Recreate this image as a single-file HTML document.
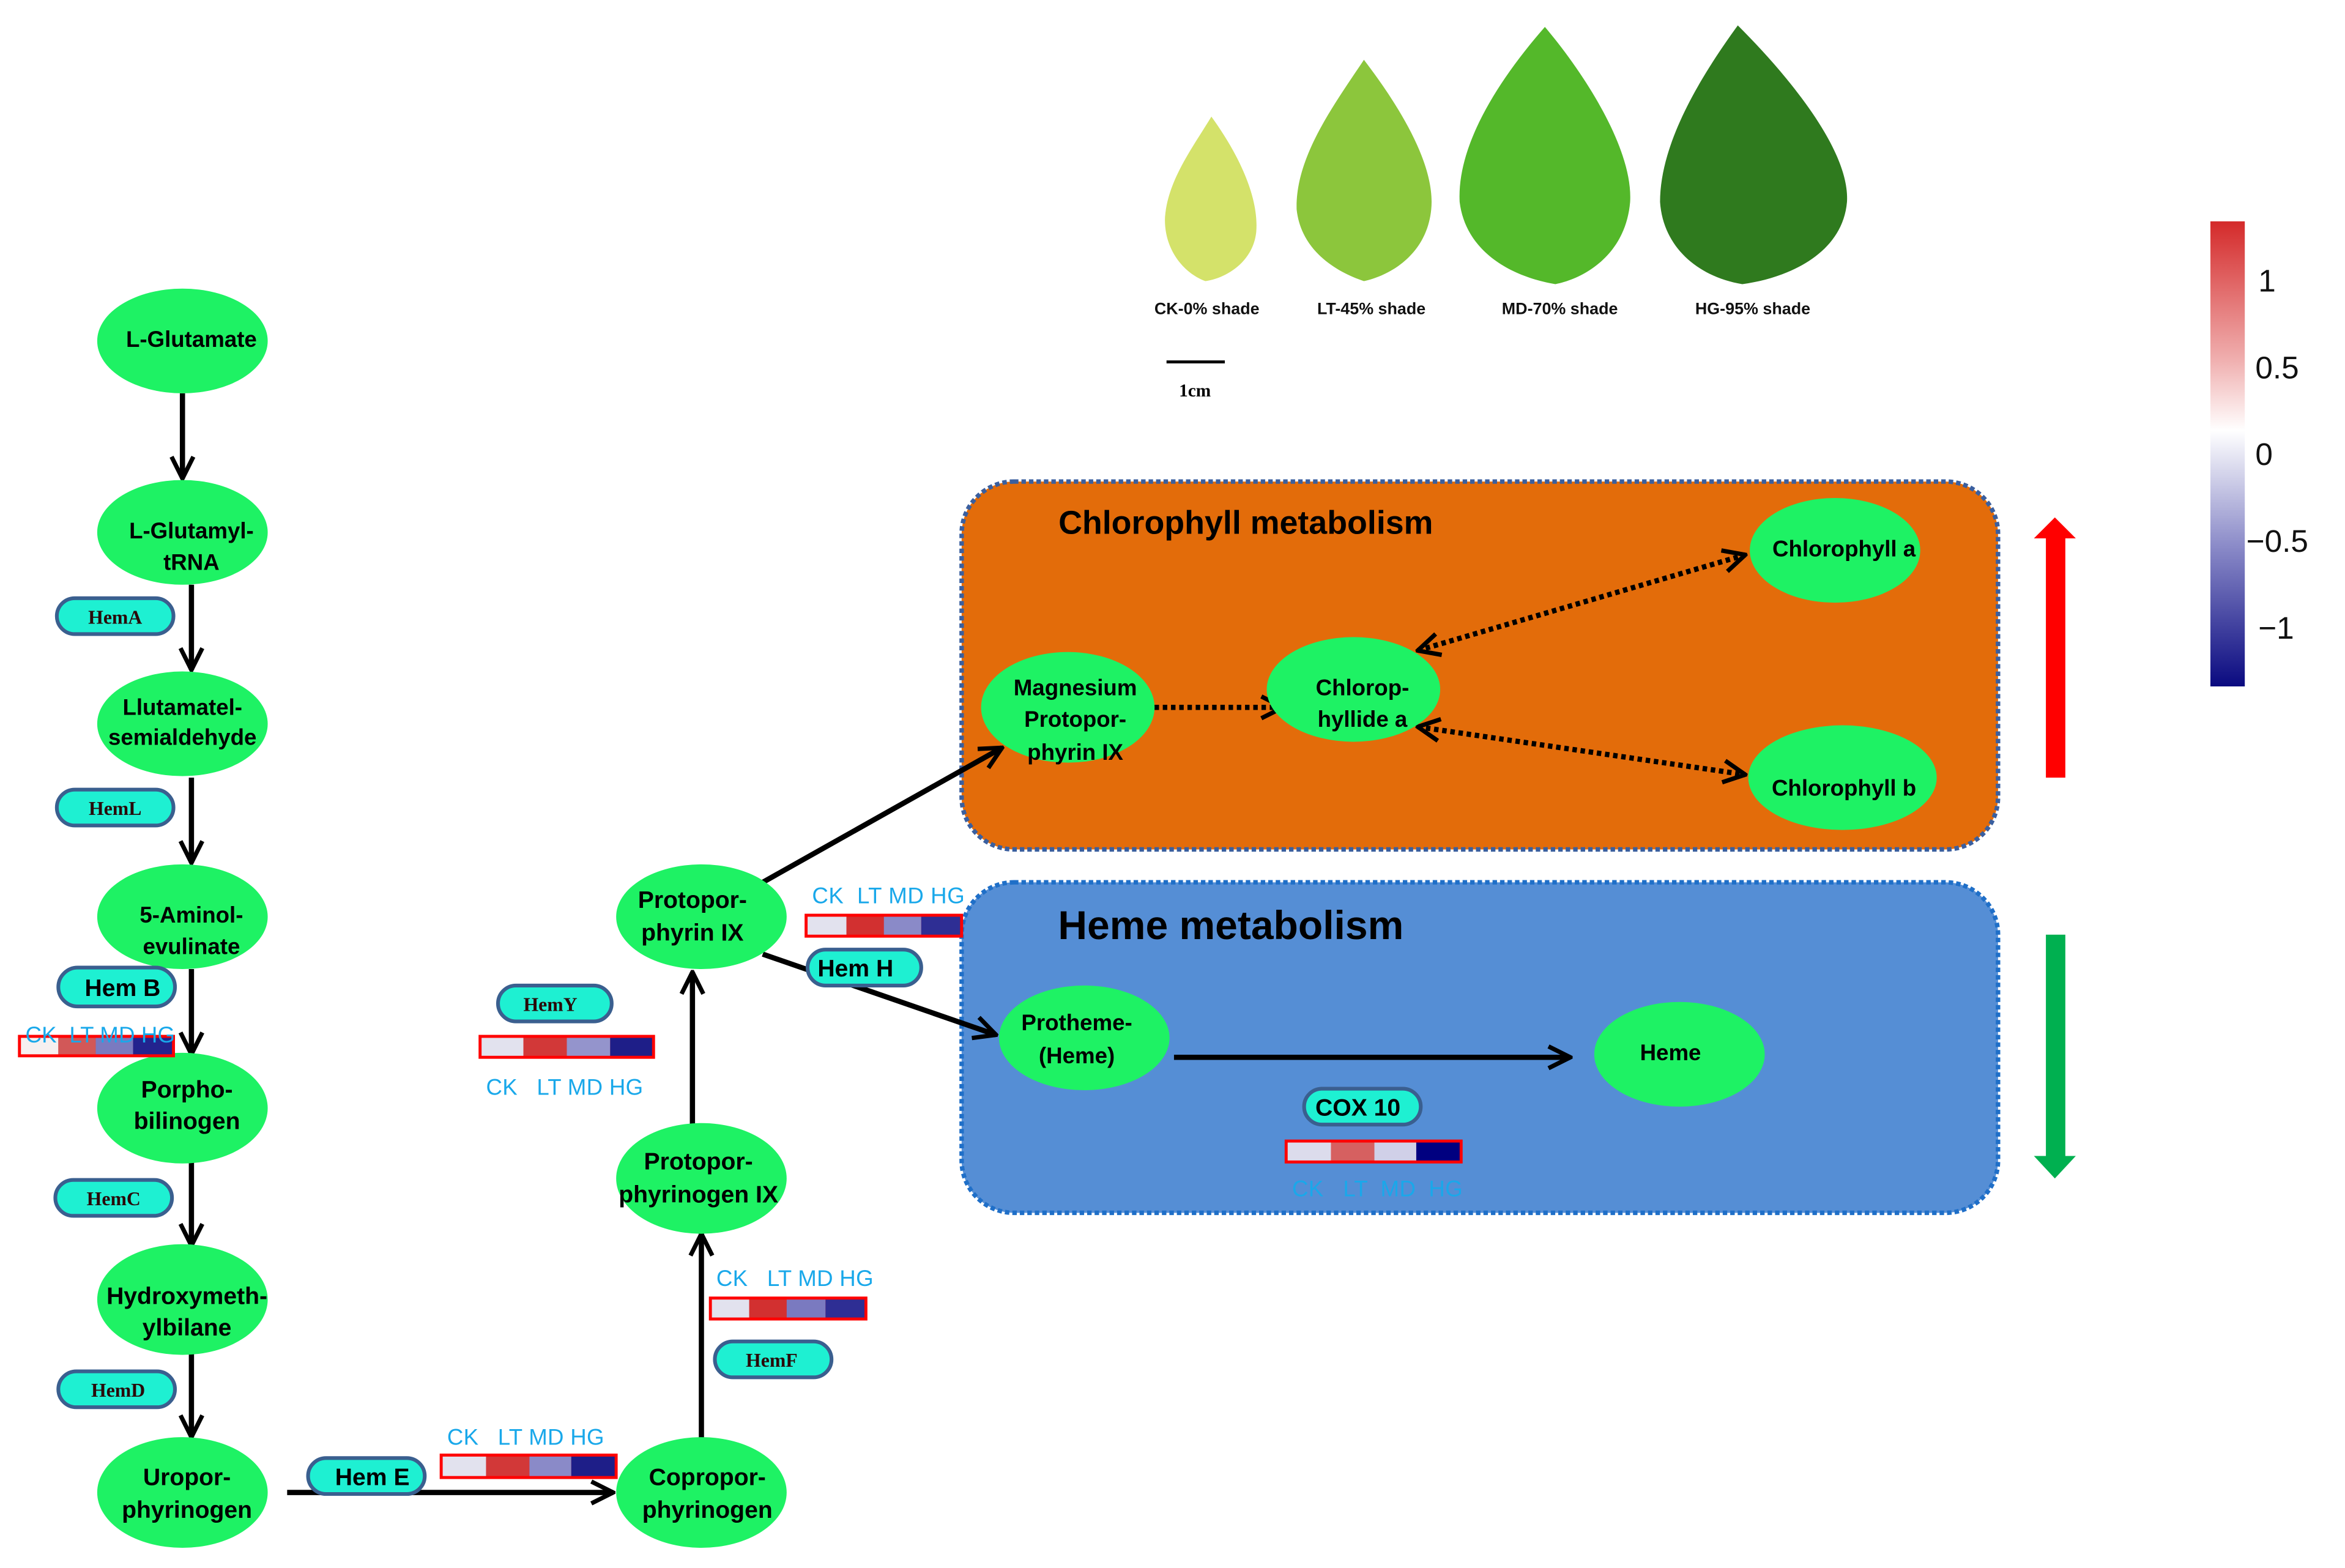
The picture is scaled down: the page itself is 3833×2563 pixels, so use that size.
<!DOCTYPE html>
<html><head><meta charset="utf-8"><style>
html,body{margin:0;padding:0;background:#fff;}
svg{display:block;}
.n{fill:#1ef264;}
.t{font-family:"Liberation Sans",sans-serif;font-weight:bold;fill:#000;text-anchor:middle;}
.c{font-family:"Liberation Sans",sans-serif;fill:#19a8ea;font-size:15px;white-space:pre;}
.p{fill:#1ef0d2;stroke:#3a5f8f;stroke-width:2.5;}
.pt{font-family:"Liberation Serif",serif;font-weight:bold;font-size:13px;fill:#2a0a0a;text-anchor:middle;}
.pt2{font-family:"Liberation Sans",sans-serif;font-weight:bold;font-size:16px;fill:#000;text-anchor:middle;}
.a{stroke:#000;stroke-width:3.5;fill:none;}
.d{stroke:#000;stroke-width:3.5;fill:none;stroke-dasharray:3 2.5;}
</style></head><body>
<svg width="3833" height="2563" viewBox="0 0 1568 1048.5" preserveAspectRatio="none" xmlns="http://www.w3.org/2000/svg">
<defs>
<marker id="ah" viewBox="0 0 12 12" refX="11" refY="6" markerWidth="5" markerHeight="5" orient="auto-start-reverse" markerUnits="strokeWidth">
<path d="M1,1 L11,6 L1,11" fill="none" stroke="#000" stroke-width="2"/></marker>
<linearGradient id="cb" x1="0" y1="0" x2="0" y2="1">
<stop offset="0" stop-color="#d42a2a"/><stop offset="0.3" stop-color="#f0b0b0"/><stop offset="0.45" stop-color="#ffffff"/><stop offset="0.7" stop-color="#8a8ac8"/><stop offset="1" stop-color="#0a0a80"/></linearGradient>
</defs>

<rect x="643" y="322" width="693" height="246" rx="35" fill="#e36c0a" stroke="#3a5f9f" stroke-width="3" stroke-dasharray="3 2"/>
<rect x="643" y="590" width="693" height="221" rx="35" fill="#558ed5" stroke="#1f6fc8" stroke-width="3" stroke-dasharray="3 2"/>
<text x="833" y="357" class="t" font-size="22">Chlorophyll metabolism</text>
<text x="823" y="628" class="t" font-size="27">Heme metabolism</text>

<!-- leaves -->
<path d="M810,78 C826,100 842,130 840,155 C838,175 820,186 806,188 C790,182 778,165 779,145 C781,120 798,98 810,78Z" fill="#d4e26a"/>
<path d="M912,40 C935,70 960,110 957,140 C954,170 930,184 912,188 C894,182 870,168 867,140 C866,105 892,70 912,40Z" fill="#8cc63c"/>
<path d="M1033,18 C1060,50 1092,100 1090,135 C1087,170 1060,186 1040,190 C1010,185 980,168 976,135 C974,95 1005,50 1033,18Z" fill="#54b82a"/>
<path d="M1162,17 C1195,50 1237,100 1235,135 C1232,170 1195,186 1165,190 C1135,185 1112,165 1110,135 C1110,95 1138,50 1162,17Z" fill="#2f7a1e"/>
<g font-family="Liberation Sans,sans-serif" font-weight="bold" font-size="11" text-anchor="middle" fill="#111">
<text x="807" y="210">CK-0% shade</text><text x="917" y="210">LT-45% shade</text><text x="1043" y="210">MD-70% shade</text><text x="1172" y="210">HG-95% shade</text></g>
<line x1="780" y1="242" x2="819" y2="242" stroke="#000" stroke-width="2"/>
<text x="799" y="265" font-family="Liberation Serif,serif" font-weight="bold" font-size="12" text-anchor="middle">1cm</text>

<rect x="1478" y="148" width="23" height="311" fill="url(#cb)"/>
<g font-family="Liberation Sans,sans-serif" font-size="21" fill="#111">
<text x="1510" y="195">1</text><text x="1508" y="253">0.5</text><text x="1508" y="311">0</text><text x="1502" y="369">−0.5</text><text x="1510" y="427">−1</text></g>

<rect x="1368" y="358" width="13" height="162" fill="#ff0000"/><path d="M1360,360 L1374,346 L1388,360Z" fill="#ff0000"/>
<rect x="1368" y="625" width="13" height="150" fill="#00b050"/><path d="M1360,773 L1374,788 L1388,773Z" fill="#00b050"/>

<line x1="122" y1="263" x2="122" y2="320" class="a" marker-end="url(#ah)"/>
<line x1="128" y1="391" x2="128" y2="448" class="a" marker-end="url(#ah)"/>
<line x1="128" y1="520" x2="128" y2="577" class="a" marker-end="url(#ah)"/>
<line x1="128" y1="648" x2="128" y2="705" class="a" marker-end="url(#ah)"/>
<line x1="128" y1="776" x2="128" y2="833" class="a" marker-end="url(#ah)"/>
<line x1="128" y1="904" x2="128" y2="961" class="a" marker-end="url(#ah)"/>
<line x1="192" y1="998" x2="410" y2="998" class="a" marker-end="url(#ah)"/>
<line x1="469" y1="963" x2="469" y2="825" class="a" marker-end="url(#ah)"/>
<line x1="463" y1="753" x2="463" y2="650" class="a" marker-end="url(#ah)"/>
<line x1="510" y1="590" x2="670" y2="500" class="a" marker-end="url(#ah)"/>
<line x1="510" y1="638" x2="666" y2="692" class="a" marker-end="url(#ah)"/>
<line x1="785" y1="707" x2="1050" y2="707" class="a" marker-end="url(#ah)"/>
<line x1="772" y1="473" x2="858" y2="473" class="d" marker-end="url(#ah)"/>
<line x1="948" y1="435" x2="1167" y2="371" class="d" marker-start="url(#ah)" marker-end="url(#ah)"/>
<line x1="948" y1="486" x2="1167" y2="518" class="d" marker-start="url(#ah)" marker-end="url(#ah)"/>

<g>
<ellipse class="n" cx="122" cy="228" rx="57" ry="35"/>
<ellipse class="n" cx="122" cy="356" rx="57" ry="35"/>
<ellipse class="n" cx="122" cy="484" rx="57" ry="35"/>
<ellipse class="n" cx="122" cy="613" rx="57" ry="35"/>
<ellipse class="n" cx="122" cy="741" rx="57" ry="37"/>
<ellipse class="n" cx="122" cy="869" rx="57" ry="37"/>
<ellipse class="n" cx="122" cy="998" rx="57" ry="37"/>
<ellipse class="n" cx="469" cy="998" rx="57" ry="37"/>
<ellipse class="n" cx="469" cy="788" rx="57" ry="37"/>
<ellipse class="n" cx="469" cy="613" rx="57" ry="35"/>
<ellipse class="n" cx="714" cy="473" rx="58" ry="37"/>
<ellipse class="n" cx="905" cy="461" rx="58" ry="35"/>
<ellipse class="n" cx="1227" cy="368" rx="57" ry="35"/>
<ellipse class="n" cx="1232" cy="520" rx="63" ry="35"/>
<ellipse class="n" cx="725" cy="694" rx="57" ry="35"/>
<ellipse class="n" cx="1123" cy="705" rx="57" ry="35"/>
</g>
<g class="t" font-size="15">
<text x="128" y="232">L-Glutamate</text>
<text x="128" y="360">L-Glutamyl-</text><text x="128" y="381">tRNA</text>
<text x="122" y="478">Llutamatel-</text><text x="122" y="498">semialdehyde</text>
<text x="128" y="617">5-Aminol-</text><text x="128" y="638">evulinate</text>
<text x="125" y="734" font-size="16">Porpho-</text><text x="125" y="755" font-size="16">bilinogen</text>
<text x="125" y="872" font-size="16">Hydroxymeth-</text><text x="125" y="893" font-size="16">ylbilane</text>
<text x="125" y="993" font-size="16">Uropor-</text><text x="125" y="1015" font-size="16">phyrinogen</text>
<text x="473" y="993" font-size="16">Copropor-</text><text x="473" y="1015" font-size="16">phyrinogen</text>
<text x="467" y="782" font-size="16">Protopor-</text><text x="467" y="804" font-size="16">phyrinogen IX</text>
<text x="463" y="607" font-size="16">Protopor-</text><text x="463" y="629" font-size="16">phyrin IX</text>
<text x="719" y="465">Magnesium</text><text x="719" y="486">Protopor-</text><text x="719" y="508">phyrin IX</text>
<text x="911" y="465">Chlorop-</text><text x="911" y="486">hyllide a</text>
<text x="1233" y="372">Chlorophyll a</text>
<text x="1233" y="532">Chlorophyll b</text>
<text x="720" y="689">Protheme-</text><text x="720" y="711">(Heme)</text>
<text x="1117" y="709">Heme</text>
</g>

<rect class="p" x="38" y="400" width="78" height="24" rx="12"/><text class="pt" x="77" y="417">HemA</text>
<rect class="p" x="38" y="528" width="78" height="24" rx="12"/><text class="pt" x="77" y="545">HemL</text>
<rect class="p" x="39" y="647" width="78" height="26" rx="13"/><text class="pt2" x="82" y="666">Hem B</text>
<rect class="p" x="37" y="789" width="78" height="24" rx="12"/><text class="pt" x="76" y="806">HemC</text>
<rect class="p" x="39" y="917" width="78" height="24" rx="12"/><text class="pt" x="79" y="934">HemD</text>
<rect class="p" x="206" y="975" width="78" height="24" rx="12"/><text class="pt2" x="249" y="993">Hem E</text>
<rect class="p" x="333" y="659" width="76" height="24" rx="12"/><text class="pt" x="368" y="676">HemY</text>
<rect class="p" x="478" y="897" width="78" height="24" rx="12"/><text class="pt" x="516" y="914">HemF</text>
<rect class="p" x="540" y="635" width="76" height="24" rx="12"/><text class="pt2" x="572" y="653">Hem H</text>
<rect class="p" x="872" y="728" width="78" height="24" rx="12"/><text class="pt2" x="908" y="746">COX 10</text>

<g stroke="none">
<g transform="translate(12,692)"><rect x="0" y="0" width="105" height="15" fill="#ff0000"/><rect x="2" y="2" width="25" height="11" fill="#f6f0f0"/><rect x="27" y="2" width="25" height="11" fill="#d25858"/><rect x="52" y="2" width="25" height="11" fill="#7a7ac0"/><rect x="77" y="2" width="26" height="11" fill="#23238e"/></g>
<g transform="translate(320,692)"><rect x="0" y="0" width="118" height="16" fill="#ff0000"/><rect x="2" y="2" width="28" height="12" fill="#e2e2ee"/><rect x="30" y="2" width="29" height="12" fill="#d23838"/><rect x="59" y="2" width="29" height="12" fill="#9494cc"/><rect x="88" y="2" width="28" height="12" fill="#1e1e88"/></g>
<g transform="translate(474,867)"><rect x="0" y="0" width="106" height="16" fill="#ff0000"/><rect x="2" y="2" width="25" height="12" fill="#e2e2ee"/><rect x="27" y="2" width="25" height="12" fill="#d23030"/><rect x="52" y="2" width="26" height="12" fill="#7a7ac0"/><rect x="78" y="2" width="26" height="12" fill="#2e2e94"/></g>
<g transform="translate(294,972)"><rect x="0" y="0" width="119" height="17" fill="#ff0000"/><rect x="2" y="2" width="29" height="13" fill="#e2e2ee"/><rect x="31" y="2" width="29" height="13" fill="#d23838"/><rect x="60" y="2" width="28" height="13" fill="#8a8ac8"/><rect x="88" y="2" width="29" height="13" fill="#1e1e88"/></g>
<g transform="translate(538,611)"><rect x="0" y="0" width="106" height="16" fill="#ff0000"/><rect x="2" y="2" width="26" height="12" fill="#e2e2ee"/><rect x="28" y="2" width="25" height="12" fill="#d23030"/><rect x="53" y="2" width="25" height="12" fill="#8a8ac8"/><rect x="78" y="2" width="26" height="12" fill="#2e2e94"/></g>
<g transform="translate(859,762)"><rect x="0" y="0" width="119" height="16" fill="#ff0000"/><rect x="2" y="2" width="29" height="12" fill="#dcdcec"/><rect x="31" y="2" width="29" height="12" fill="#d66060"/><rect x="60" y="2" width="28" height="12" fill="#d0d0e8"/><rect x="88" y="2" width="29" height="12" fill="#000080"/></g>
</g>
<text class="c" x="17" y="697" textLength="100" lengthAdjust="spacing">CK  LT MD HG</text>
<text class="c" x="325" y="732" textLength="105" lengthAdjust="spacing">CK   LT MD HG</text>
<text class="c" x="479" y="860" textLength="105" lengthAdjust="spacing">CK   LT MD HG</text>
<text class="c" x="299" y="966" textLength="105" lengthAdjust="spacing">CK   LT MD HG</text>
<text class="c" x="543" y="604" textLength="102" lengthAdjust="spacing">CK  LT MD HG</text>
<text class="c" x="864" y="800" fill="#1a9ae8" textLength="114" lengthAdjust="spacing">CK   LT  MD  HG</text>
</svg>
</body></html>
